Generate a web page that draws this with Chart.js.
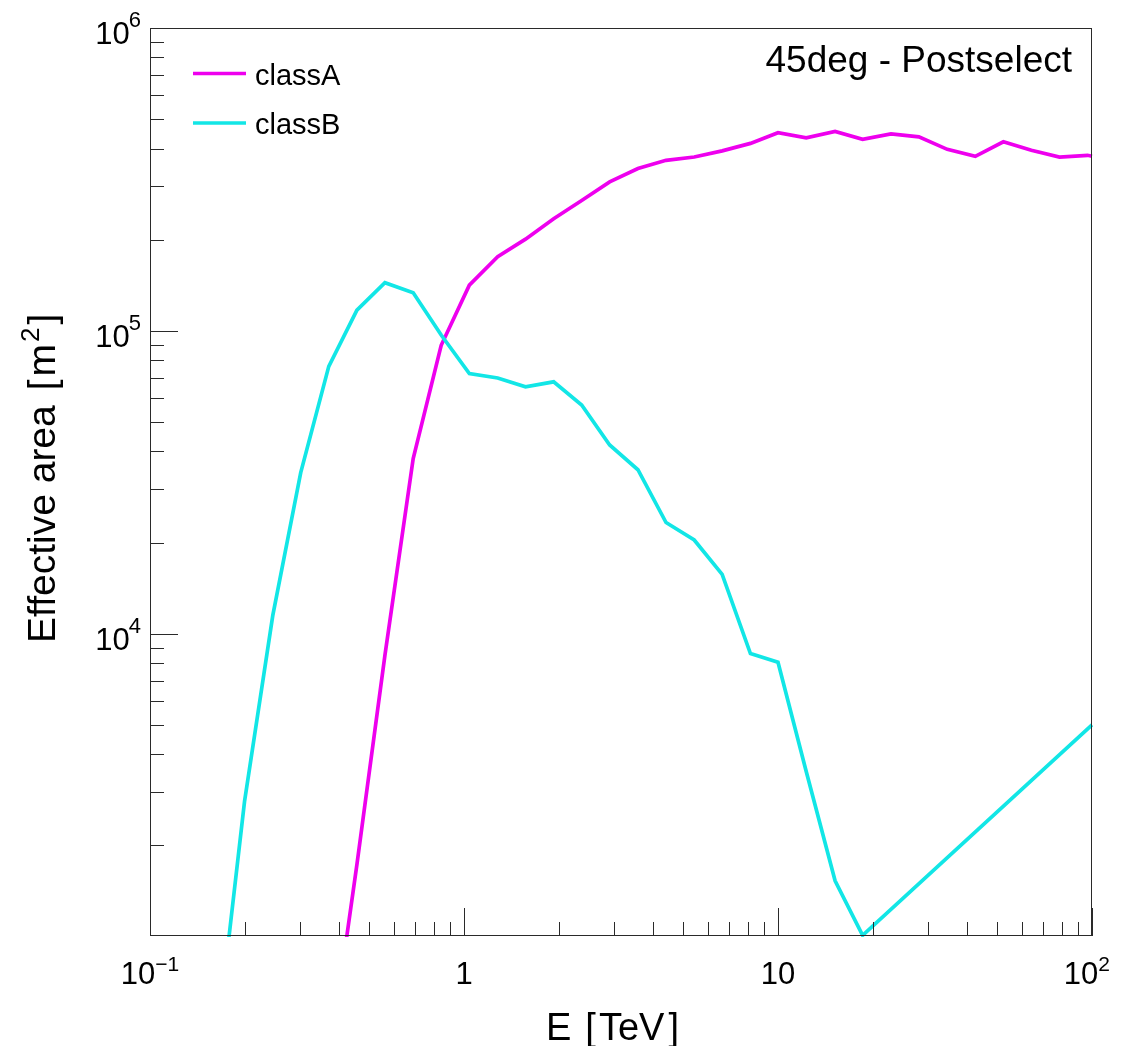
<!DOCTYPE html>
<html>
<head>
<meta charset="utf-8">
<title>Effective area vs energy</title>
<script src="https://cdn.jsdelivr.net/npm/chart.js@4.4.1/dist/chart.umd.min.js"></script>
<style>
  html, body { margin: 0; padding: 0; background: #ffffff; }
  canvas { display: block; }
</style>
</head>
<body>
<canvas id="effArea" width="1122" height="1046"></canvas>
<script>
// Energy bin centres [TeV]; the final entry is the upper edge of the axis.
const energyTeV = [0.163, 0.200, 0.246, 0.302, 0.371, 0.456, 0.560, 0.689, 0.846,
                   1.04, 1.28, 1.57, 1.93, 2.37, 2.91, 3.58, 4.40, 5.41, 6.64, 8.17,
                   10.0, 12.3, 15.2, 18.6, 22.9, 28.1, 34.6, 42.5, 52.2, 64.1, 78.8, 96.8,
                   100];

// Effective area [m^2] per energy bin (null = no entry for that bin).
const classA = [null, null, null, null, 380, 1730, 8500, 37900, 89600,
                141600, 175800, 200800, 234600, 269600, 310400, 343400, 365700, 375000, 393000, 416000,
                451200, 433800, 455600, 428900, 447200, 437100, 397600, 377000, 420900, 394700, 375000, 379900,
                377000];
const classB = [440, 2795, 11480, 34040, 76380, 117100, 144200, 133600, 96900,
                72300, 69900, 65400, 67900, 56900, 42000, 34800, 23300, 20400, 15700, 8600,
                8050, 3510, 1530, 1010, null, null, null, null, null, null, null, null,
                5000];

const seriesNames  = ['classA', 'classB'];
const seriesColors = ['#ee00ee', '#12e6e6'];

// Axis ranges and labelled decades: [mantissa text, exponent text]
const xRange = [0.1, 100];
const yRange = [1005, 1e6];
const xTickValues = [0.1, 1, 10, 100];
const xTickLabels = [['10', '\u22121'], ['1', ''], ['10', ''], ['10', '2']];
const yTickValues = [1e4, 1e5, 1e6];
const yTickLabels = [['10', '4'], ['10', '5'], ['10', '6']];

const xTitleParts = ['E', '[', 'TeV', ']'];
const yTitleParts = ['Effective area', '[', 'm', '2', ']'];
const panelText = '45deg - Postselect';

const FONT = '"Liberation Sans", Arial, Helvetica, sans-serif';
const AXIS_COLOR = '#2a2a2a';

function toPoints(values) {
  return energyTeV.map((e, i) => ({ x: e, y: values[i] }));
}

// Frame, inward ticks, superscript decade labels, titles, legend and caption
const rootStyle = {
  id: 'rootStyle',
  afterDraw(chart) {
    const ctx = chart.ctx;
    const area = chart.chartArea;
    const xs = chart.scales.x;
    const ys = chart.scales.y;
    ctx.save();

    // frame
    ctx.strokeStyle = AXIS_COLOR;
    ctx.lineWidth = 1;
    ctx.strokeRect(area.left + 0.5, area.top + 0.5, area.right - area.left - 1, area.bottom - area.top - 1);

    // y ticks (left axis, pointing inwards)
    ctx.beginPath();
    for (let d = Math.floor(Math.log10(yRange[0])); d <= Math.log10(yRange[1]); d++) {
      for (let m = 1; m <= 9; m++) {
        const v = m * Math.pow(10, d);
        if (v < yRange[0] || v > yRange[1]) continue;
        const py = Math.round(ys.getPixelForValue(v)) + 0.5;
        const len = m === 1 ? 28 : 14;
        ctx.moveTo(area.left, py);
        ctx.lineTo(area.left + len, py);
      }
    }
    // x ticks (bottom axis, pointing inwards)
    for (let d = Math.floor(Math.log10(xRange[0])); d <= Math.log10(xRange[1]); d++) {
      for (let m = 1; m <= 9; m++) {
        const v = m * Math.pow(10, d);
        if (v < xRange[0] * 0.999 || v > xRange[1] * 1.001) continue;
        const px = Math.round(xs.getPixelForValue(v)) + 0.5;
        const len = m === 1 ? 28 : 14;
        ctx.moveTo(px, area.bottom);
        ctx.lineTo(px, area.bottom - len);
      }
    }
    ctx.stroke();

    ctx.fillStyle = '#000000';
    ctx.textBaseline = 'alphabetic';

    // y labels
    yTickValues.forEach((v, i) => {
      const py = ys.getPixelForValue(v);
      const [base, exp] = yTickLabels[i];
      ctx.font = '22px ' + FONT;
      const ew = ctx.measureText(exp).width;
      ctx.textAlign = 'right';
      ctx.fillText(exp, 141, py - 1);
      ctx.font = '31px ' + FONT;
      ctx.fillText(base, 141 - ew + 1, py + 16);
    });

    // x labels
    xTickValues.forEach((v, i) => {
      const px = xs.getPixelForValue(v);
      const [base, exp] = xTickLabels[i];
      ctx.font = '31px ' + FONT;
      const bw = ctx.measureText(base).width;
      ctx.font = '21px ' + FONT;
      const ew = exp ? ctx.measureText(exp).width : 0;
      const total = bw + ew;
      let left = px - total / 2;
      if (left + total > chart.width - 12) left = chart.width - 12 - total;
      ctx.textAlign = 'left';
      ctx.font = '31px ' + FONT;
      ctx.fillText(base, left, 984);
      if (exp) {
        ctx.font = '21px ' + FONT;
        ctx.fillText(exp, left + bw, 971);
      }
    });

    // x title: "E [TeV]" with roomy brackets
    ctx.textAlign = 'left';
    ctx.font = '38px ' + FONT;
    let x = 546;
    const xGaps = [14, 3, 4, 0];
    xTitleParts.forEach((part, i) => {
      ctx.fillText(part, x, 1040);
      x += ctx.measureText(part).width + xGaps[i];
    });

    // y title (rotated): "Effective area [m^2]"
    ctx.save();
    ctx.translate(55, 643);
    ctx.rotate(-Math.PI / 2);
    ctx.textAlign = 'left';
    let t = 0;
    ctx.font = '39px ' + FONT;
    ctx.fillText(yTitleParts[0], t, 0);
    t += ctx.measureText(yTitleParts[0]).width + 15;
    ctx.fillText(yTitleParts[1], t, 0);
    t += ctx.measureText(yTitleParts[1]).width + 3;
    ctx.fillText(yTitleParts[2], t, 0);
    t += ctx.measureText(yTitleParts[2]).width + 2;
    ctx.font = '26px ' + FONT;
    ctx.fillText(yTitleParts[3], t, -16);
    t += ctx.measureText(yTitleParts[3]).width + 3;
    ctx.font = '39px ' + FONT;
    ctx.fillText(yTitleParts[4], t, 0);
    ctx.restore();

    // caption
    ctx.font = '37px ' + FONT;
    ctx.textAlign = 'right';
    ctx.fillText(panelText, 1072, 72);

    // legend
    const legendY = [73.5, 123];
    chart.data.datasets.forEach((ds, i) => {
      ctx.strokeStyle = ds.borderColor;
      ctx.lineWidth = 3.5;
      ctx.beginPath();
      ctx.moveTo(193, legendY[i]);
      ctx.lineTo(246, legendY[i]);
      ctx.stroke();
      ctx.fillStyle = '#000000';
      ctx.font = '29px ' + FONT;
      ctx.textAlign = 'left';
      ctx.fillText(ds.label, 255, legendY[i] + 11);
    });

    ctx.restore();
  }
};

new Chart(document.getElementById('effArea'), {
  type: 'line',
  data: {
    datasets: [
      { label: seriesNames[0], data: toPoints(classA), borderColor: seriesColors[0], order: 1 },
      { label: seriesNames[1], data: toPoints(classB), borderColor: seriesColors[1], order: 0 }
    ]
  },
  options: {
    responsive: false,
    animation: false,
    devicePixelRatio: 1,
    spanGaps: true,
    layout: { padding: { left: 150, top: 28, right: 30, bottom: 110 } },
    elements: {
      line: { borderWidth: 3.7, tension: 0, fill: false, borderJoinStyle: 'miter' },
      point: { radius: 0, hoverRadius: 0 }
    },
    datasets: { line: { clip: 1 } },
    plugins: { legend: { display: false }, tooltip: { enabled: false } },
    scales: {
      x: { type: 'logarithmic', min: xRange[0], max: xRange[1], display: false },
      y: { type: 'logarithmic', min: yRange[0], max: yRange[1], display: false }
    }
  },
  plugins: [rootStyle]
});
</script>
</body>
</html>
